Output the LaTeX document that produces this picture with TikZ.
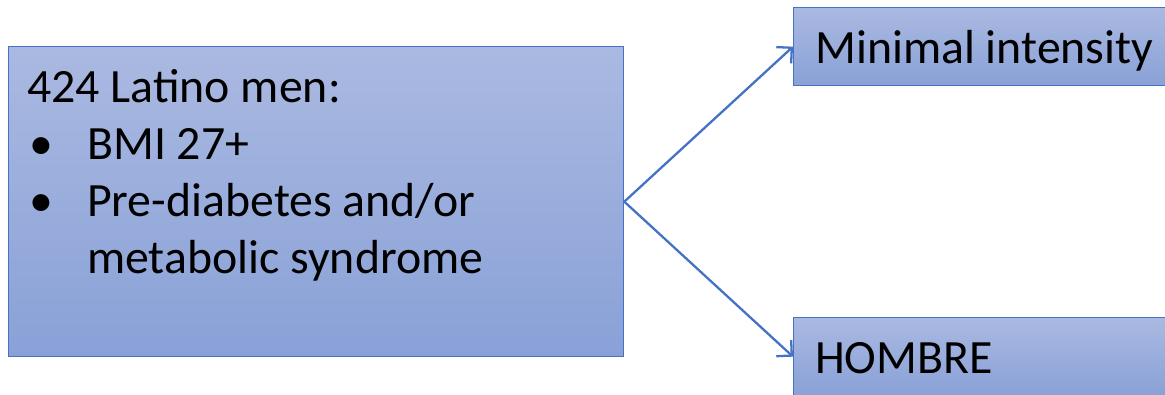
\documentclass[tikz,border=0pt]{standalone}
\usepackage{fontspec}
\setmainfont{Carlito}
\usetikzlibrary{arrows.meta}
\definecolor{edgeblue}{HTML}{4472C4}
\definecolor{topfill}{HTML}{AAB9E1}
\definecolor{botfill}{HTML}{89A1D7}
\tikzset{
  box/.style={draw=edgeblue, line width=1.3pt, top color=topfill, bottom color=botfill, anchor=north west, inner sep=0pt},
  txt/.style={anchor=base west, inner sep=0pt, font=\fontsize{47.8}{57}\selectfont},
  conn/.style={draw=edgeblue, line width=2.3pt, -{Straight Barb[length=11pt,width=22pt,line width=2.3pt]}}
}
\begin{document}
\begin{tikzpicture}[x=1pt,y=-1pt]
\useasboundingbox (0,0) rectangle (1165,394);
\clip (0,0) rectangle (1165,394);
\node[box, minimum width=615pt, minimum height=310pt] (src) at (8,46) {};
\node[box, minimum width=380pt, minimum height=78pt] (min) at (793,7) {};
\node[box, minimum width=380pt, minimum height=78pt] (hom) at (793,317) {};
\node[txt] (l1) at (27,102) {424 Latino men:};
\node[txt] (b1) at (29,159) {•};
\node[txt] (l2) at (87,159) {BMI 27+};
\node[txt] (b2) at (29,216) {•};
\node[txt] (l3) at (87,216) {Pre-diabetes and/or};
\node[txt] (l4) at (87,273) {metabolic syndrome};
\node[txt] (t1) at (815,63) {Minimal intensity};
\node[txt] (t2) at (815,373) {HOMBRE};
\draw[conn] (src.east) -- (min.west);
\draw[conn] (src.east) -- (hom.west);
\end{tikzpicture}
\end{document}
